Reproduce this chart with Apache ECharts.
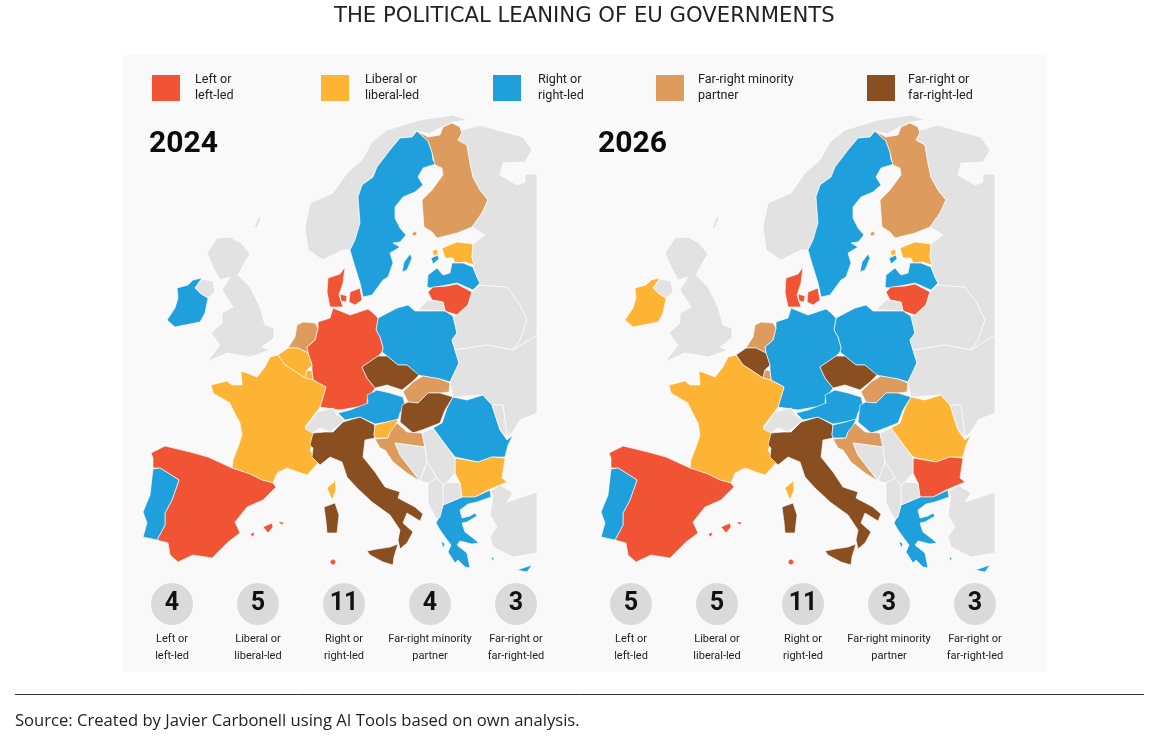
<!DOCTYPE html>
<html><head><meta charset="utf-8">
<style>html,body{margin:0;padding:0;background:#fff}#c{width:1149px;height:736px}</style>
<script src="https://cdn.jsdelivr.net/npm/echarts@6/dist/echarts.min.js"></script>
</head><body><div id="c"></div>
<script>
// ---------- values ----------
const categories = ['Left or\nleft-led','Liberal or\nliberal-led','Right or\nright-led','Far-right minority\npartner','Far-right or\nfar-right-led'];
const colours = ['#f15335','#fdb334','#1fa0dc','#dd9b5d','#8a4f20'];
const counts2024 = [4,5,11,4,3];
const counts2026 = [5,5,11,3,3];
const left2024 = ['ES','DE','DK','LT','MT'];
const liberal2024 = ['FR','BE','LU','SI','BG','EE'];
const right2024 = ['PT','IE','SE','LV','PL','AT','RO','GR'];
const minority2024 = ['FI','NL','SK','HR'];
const farRight2024 = ['IT','CZ','HU'];
const left2026 = ['ES','DK','LT','BG','MT'];
const liberal2026 = ['IE','FR','RO','EE'];
const right2026 = ['PT','SE','LV','PL','DE','AT','SI','HU','GR'];
const minority2026 = ['FI','NL','LU','SK','HR'];
const farRight2026 = ['BE','IT','CZ'];
// Outline of every country (map units)
const regions = {
 NO:[[[372,142],[387,130],[420,120],[453,115],[468,120],[453,122],[440,128],[429,134],[416,131],[412,137],[400,138],[390,150],[377,167],[373,177],[362,185],[358,197],[360,223],[355,240],[350,250],[343,250],[323,260],[308,250],[305,227],[310,203],[333,193],[347,173],[362,160]]],
 SE:[[[417,131],[428,141],[432,152],[433,160],[436,164],[423,168],[418,177],[423,185],[415,192],[403,197],[395,207],[395,218],[400,228],[406,235],[400,242],[393,243],[400,247],[390,253],[393,263],[388,277],[383,280],[372,295],[363,297],[360,283],[355,267],[350,250],[355,240],[360,223],[358,197],[362,185],[373,177],[377,167],[390,150],[400,138],[412,137]],
     [[404,262],[410,254],[412,258],[407,270],[402,272]]],
 FI:[[[452,123],[460,127],[462,133],[458,140],[467,145],[470,163],[473,177],[480,190],[488,200],[482,213],[472,227],[457,233],[437,238],[432,232],[424,227],[422,200],[432,190],[443,175],[442,168],[435,165],[432,152],[428,141],[417,131],[428,137],[440,135],[443,127]],
     [[412,233],[416,231],[417,235],[413,236]]],
 EE:[[[442,248],[457,242],[473,244],[472,257],[474,265],[465,262],[455,263],[453,258],[445,258]],[[432,251],[437,249],[438,254],[434,256]]],
 LV:[[[427,287],[428,275],[437,268],[443,275],[450,273],[452,263],[463,263],[473,267],[477,277],[480,283],[473,290],[457,283],[447,285],[430,288]],[[431,258],[438,255],[439,259],[433,264]]],
 LT:[[[428,292],[433,287],[447,286],[457,284],[472,292],[468,305],[457,315],[445,311],[443,302],[432,300]]],
 KA:[[[418,310],[428,300],[443,302],[445,311]]],
 PL:[[[378,318],[397,308],[408,305],[415,311],[445,311],[453,316],[457,333],[452,340],[455,350],[459,363],[450,382],[440,379],[423,376],[418,375],[407,365],[398,365],[387,356],[382,352],[383,348],[380,337],[376,330]]],
 DE:[[[318,322],[330,318],[333,308],[350,315],[368,309],[372,312],[378,318],[376,330],[380,337],[383,348],[382,352],[378,356],[362,367],[367,378],[375,388],[367,400],[368,407],[357,407],[340,410],[320,407],[326,387],[313,380],[312,371],[312,365],[308,353],[307,347],[315,340],[318,328]]],
 DK:[[[345,267],[340,274],[328,278],[327,292],[330,307],[343,307],[339,295],[343,283]],[[350,292],[360,288],[362,300],[355,305],[349,302]],[[340,294],[347,296],[346,302],[341,301]]],
 NL:[[[297,325],[303,322],[315,323],[318,328],[315,340],[307,347],[308,353],[298,348],[288,348],[295,337]]],
 BE:[[[278,355],[288,348],[298,348],[308,353],[312,365],[307,370],[305,378],[293,370],[285,365]]],
 LU:[[[307,370],[312,371],[313,380],[305,378]]],
 FR:[[[278,355],[285,365],[293,370],[305,378],[313,380],[326,387],[320,407],[320,408],[305,427],[313,433],[313,443],[310,450],[318,463],[307,475],[298,472],[287,468],[277,473],[273,483],[262,480],[250,474],[232,468],[233,460],[238,447],[242,435],[240,423],[233,410],[230,403],[213,393],[211,385],[227,381],[232,385],[242,385],[241,371],[247,373],[257,377],[265,367],[270,357]],
     [[335,478],[336,490],[332,500],[327,488],[334,482]]],
 ES:[[[151,453],[165,446],[190,452],[208,457],[232,468],[250,474],[262,480],[273,483],[276,487],[263,500],[247,507],[235,522],[240,533],[228,542],[220,550],[212,558],[193,555],[178,562],[170,555],[168,543],[157,540],[165,525],[165,513],[172,500],[179,480],[168,473],[160,468],[153,468],[153,458]],
     [[263,527],[272,523],[273,527],[268,533]],[[278,522],[284,522],[282,525]],[[250,534],[255,532],[253,537]]],
 PT:[[[153,469],[160,468],[168,473],[179,480],[172,500],[165,513],[165,525],[157,540],[143,537],[147,523],[143,512],[150,495]]],
 IE:[[[177,288],[188,285],[193,280],[202,278],[195,288],[200,293],[208,298],[205,313],[200,322],[175,327],[167,320],[175,308],[178,298]]],
 GB:[[[207,253],[217,238],[230,237],[241,243],[250,254],[245,262],[238,275],[250,287],[260,307],[265,325],[274,328],[274,338],[262,347],[270,350],[250,357],[227,353],[207,362],[220,345],[211,333],[222,323],[222,313],[233,307],[222,290],[230,277],[220,280],[213,267]],
     [[195,288],[202,279],[213,281],[215,292],[208,298],[200,293]],[[254,228],[259,216],[261,218],[257,228]]],
 IT:[[[313,433],[325,432],[333,432],[343,422],[360,417],[375,425],[374,435],[375,438],[365,440],[363,457],[375,472],[385,487],[400,492],[398,498],[415,507],[423,514],[420,521],[407,513],[403,523],[413,532],[407,543],[400,549],[398,540],[400,530],[390,515],[372,502],[357,488],[347,477],[342,462],[330,457],[320,465],[312,457],[313,448],[310,445]],
     [[367,551],[377,549],[390,547],[398,544],[394,557],[393,565],[383,562],[370,555]],
     [[324,507],[335,503],[339,515],[337,533],[327,533],[326,522]]],
 CH:[[[305,429],[317,412],[333,408],[337,415],[345,420],[343,422],[330,432],[320,428],[313,433]]],
 AT:[[[338,413],[350,410],[368,403],[367,395],[377,390],[390,393],[403,397],[405,405],[400,413],[398,420],[387,422],[375,424],[360,417],[345,420]]],
 CZ:[[[362,367],[378,356],[387,356],[398,365],[407,365],[419,375],[412,382],[402,390],[387,385],[375,388],[367,378]]],
 SK:[[[403,392],[413,382],[423,376],[440,379],[450,383],[449,392],[440,393],[428,393],[418,403],[408,402]]],
 HU:[[[402,405],[408,402],[418,403],[428,393],[440,393],[453,397],[445,410],[440,423],[422,430],[413,433],[400,422]]],
 RO:[[[433,428],[442,423],[447,408],[453,397],[467,400],[483,395],[492,405],[500,430],[507,440],[513,435],[508,445],[505,457],[492,457],[478,462],[455,457],[447,447]]],
 BG:[[[455,458],[478,462],[492,457],[505,458],[502,478],[507,482],[488,490],[475,497],[462,497],[460,483],[455,473]]],
 GR:[[[443,505],[462,497],[475,497],[490,490],[491,497],[477,502],[468,504],[460,510],[462,518],[470,516],[475,513],[477,516],[467,522],[462,523],[465,532],[473,538],[479,543],[472,544],[460,541],[457,545],[467,553],[470,568],[465,567],[458,560],[455,563],[448,552],[451,545],[445,537],[440,530],[436,523],[440,515]],
     [[517,570],[532,565],[527,572]],[[491,558],[494,557],[493,561]],[[441,541],[445,544],[443,548]]],
 SI:[[[375,425],[387,422],[398,419],[395,427],[390,432],[388,438],[375,438],[374,435]]],
 HR:[[[375,439],[388,438],[390,432],[397,423],[407,432],[422,433],[425,447],[410,445],[395,443],[400,455],[420,481],[407,473],[393,462],[385,450],[380,448]]],
 BA:[[[395,443],[410,445],[425,447],[427,462],[420,481],[400,455]]],
 RS:[[[422,433],[433,428],[447,447],[455,458],[455,473],[447,482],[443,485],[437,478],[432,470],[427,462],[425,447]]],
 ME:[[[420,481],[427,462],[432,470],[437,478],[428,483]]],
 MK:[[[443,485],[447,482],[460,483],[462,497],[443,505]]],
 AL:[[[428,483],[437,478],[443,485],[443,505],[440,517],[437,520],[428,503]]],
 TR:[[[490,515],[493,495],[490,492],[500,485],[513,493],[507,502],[537,492],[537,553],[513,557],[493,547],[490,537],[497,527]]],
 BY:[[[457,333],[453,316],[457,315],[468,305],[472,292],[480,285],[507,287],[520,305],[527,320],[520,340],[513,350],[487,345],[455,350],[452,340]]],
 UA:[[[455,350],[487,345],[513,350],[537,335],[537,413],[520,420],[513,432],[507,437],[503,405],[492,405],[483,395],[453,397],[450,382],[459,363]]],
 MD:[[[492,405],[503,405],[507,437],[500,430]]],
 RU:[[[463,130],[480,125],[497,130],[523,137],[532,150],[525,162],[503,163],[500,175],[517,185],[525,182],[525,174],[537,174],[537,335],[513,350],[520,340],[527,320],[520,305],[507,287],[480,285],[480,283],[477,277],[473,267],[474,265],[472,257],[473,244],[485,235],[472,227],[482,213],[488,200],[480,190],[473,177],[470,163],[467,145],[458,140],[462,133],[460,127]]],
 MT:[[[333,559],[335,560],[336,562],[335,564],[333,565],[331,564],[330,562],[331,560]]]
};
// ---------- build the map ----------
const geoJson = {type:'FeatureCollection',features:Object.keys(regions).map(k=>({
  type:'Feature',properties:{name:k},
  geometry:{type:'MultiPolygon',coordinates:regions[k].map(r=>[r.map(p=>[p[0],-p[1]])])}
}))};
echarts.registerMap('europe2024',geoJson);
echarts.registerMap('europe2026',geoJson);

const yearData = groups => groups.flatMap((names,i)=>names.map(n=>({
  name:n,value:i,
  itemStyle:{areaColor:colours[i]},
  emphasis:{disabled:true}
})));
const GREY='#e2e2e2';
const mapSeries=(name,left,groups)=>({
  type:'map',name,map:'europe'+name,aspectScale:1,showLegendSymbol:false,
  boundingCoords:[[140,-110],[540,-575]],left,top:110,width:400,height:465,
  roam:false,silent:true,z:3,
  label:{show:false},emphasis:{disabled:true},select:{disabled:true},
  itemStyle:{areaColor:GREY,borderColor:'rgba(255,255,255,0.8)',borderWidth:0.8},
  data:yearData(groups)
});
const ui='Roboto,"Noto Sans",sans-serif';
const body='"Open Sans","Noto Sans",sans-serif';
const countGrid=(i,left)=>({left,width:430,top:584,height:40});
const countAxes=i=>({
  x:{type:'category',gridIndex:i,data:categories,axisLine:{show:false},axisTick:{show:false},splitLine:{show:false},
     axisLabel:{interval:0,margin:7,lineHeight:17,fontFamily:ui,fontSize:11,color:'#222'}},
  y:{type:'category',gridIndex:i,data:['count'],show:false}
});
const countSeries=(i,vals)=>({
  type:'scatter',xAxisIndex:i,yAxisIndex:i,symbolSize:42,silent:true,z:4,
  itemStyle:{color:'#dadada',opacity:1},
  label:{show:true,position:'inside',formatter:p=>String(p.value[2]),fontFamily:ui,fontWeight:'bold',fontSize:25,color:'#111'},
  data:vals.map((v,k)=>[k,0,v])
});
const legendLefts=[152,321,493,656,867];
const legendPads=[10,11,12,9,8];
const legends=categories.map((c,i)=>({
  data:[{name:c,itemStyle:{color:colours[i],opacity:1}}],left:legendLefts[i],top:72,orient:'horizontal',padding:0,
  icon:'rect',itemWidth:28,itemHeight:26,itemGap:0,selectedMode:false,
  textStyle:{fontFamily:ui,fontSize:12.6,lineHeight:16,color:'#222',padding:[0,0,0,legendPads[i]]}
}));
const ax0=countAxes(0),ax1=countAxes(1);
const chart=echarts.init(document.getElementById('c'),null,{renderer:'canvas'});
chart.setOption({
  animation:false,backgroundColor:'#ffffff',tooltip:{show:false},
  title:[
    {text:'THE POLITICAL LEANING OF EU GOVERNMENTS',left:334,top:6,padding:0,textStyle:{fontFamily:'"DejaVu Sans",sans-serif',fontWeight:'normal',fontSize:21.2,color:'#222'}},
    {text:'2024',left:149,top:129,padding:0,textStyle:{fontFamily:ui,fontWeight:'bold',fontSize:30,color:'#0b0b0b'}},
    {text:'2026',left:598,top:129,padding:0,textStyle:{fontFamily:ui,fontWeight:'bold',fontSize:30,color:'#0b0b0b'}},
    {text:'Source: Created by Javier Carbonell using AI Tools based on own analysis.',left:15,top:713,padding:0,textStyle:{fontFamily:body,fontWeight:'normal',fontSize:16.6,color:'#222'}}
  ],
  legend:legends,
  grid:[countGrid(0,129),countGrid(1,588)],
  xAxis:[ax0.x,ax1.x],yAxis:[ax0.y,ax1.y],
  graphic:[
    {type:'rect',silent:true,z:-10,shape:{x:123,y:55,width:923,height:617},style:{fill:'#f9f9f9'}},
    {type:'line',silent:true,shape:{x1:15,y1:694.5,x2:1144,y2:694.5},style:{stroke:'#333',lineWidth:1}}
  ],
  series:[
    mapSeries('2024',140,[left2024,liberal2024,right2024,minority2024,farRight2024]),
    mapSeries('2026',598,[left2026,liberal2026,right2026,minority2026,farRight2026]),
    countSeries(0,counts2024),countSeries(1,counts2026),
    ...categories.map((c,i)=>({type:'scatter',name:c,xAxisIndex:0,yAxisIndex:0,data:[],itemStyle:{color:colours[i],opacity:1}}))
  ]
});
</script></body></html>
